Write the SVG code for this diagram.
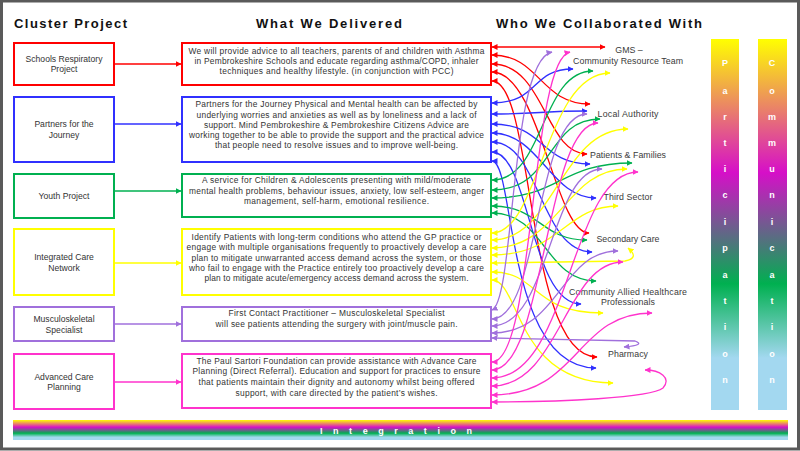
<svg xmlns="http://www.w3.org/2000/svg" width="800" height="451" viewBox="0 0 800 451">
<style>
.hdr{font-family:"Liberation Sans",Arial,sans-serif;font-weight:bold;font-size:13px;fill:#111}
.bt{font-family:"Liberation Sans",Arial,sans-serif;font-size:8.4px;fill:#333;text-anchor:middle}
.lt{font-family:"Liberation Sans",Arial,sans-serif;font-size:8.6px;fill:#333;text-anchor:middle}
.rl{font-family:"Liberation Sans",Arial,sans-serif;font-size:8.8px;fill:#3a3a3a;text-anchor:middle}
.vt{font-family:"Liberation Sans",Arial,sans-serif;font-weight:bold;font-size:9px;fill:#fff;text-anchor:middle}
.box{fill:#fff;stroke-width:2}
.c{fill:none;stroke-width:1.3}
.red{stroke:#ff0000}.blue{stroke:#3030ff}.green{stroke:#00b050}.yellow{stroke:#ffff00}.purple{stroke:#a070dc}.pink{stroke:#ff33cc}
.red.c{marker-start:url(#mr);marker-end:url(#mr)}
.blue.c{marker-start:url(#mb);marker-end:url(#mb)}
.green.c{marker-start:url(#mg);marker-end:url(#mg)}
.yellow.c{marker-start:url(#my);marker-end:url(#my)}
.purple.c{marker-start:url(#mp);marker-end:url(#mp)}
.pink.c{marker-start:url(#mk);marker-end:url(#mk)}
.la{fill:none;stroke-width:1.3}
</style>
<defs>
<marker id="mr" markerUnits="userSpaceOnUse" markerWidth="6" markerHeight="6" refX="5.5" refY="3" orient="auto-start-reverse"><path d="M0,0 L6,3 L0,6 z" fill="#ff0000"/></marker>
<marker id="mb" markerUnits="userSpaceOnUse" markerWidth="6" markerHeight="6" refX="5.5" refY="3" orient="auto-start-reverse"><path d="M0,0 L6,3 L0,6 z" fill="#3030ff"/></marker>
<marker id="mg" markerUnits="userSpaceOnUse" markerWidth="6" markerHeight="6" refX="5.5" refY="3" orient="auto-start-reverse"><path d="M0,0 L6,3 L0,6 z" fill="#00b050"/></marker>
<marker id="my" markerUnits="userSpaceOnUse" markerWidth="6" markerHeight="6" refX="5.5" refY="3" orient="auto-start-reverse"><path d="M0,0 L6,3 L0,6 z" fill="#ffff00"/></marker>
<marker id="mp" markerUnits="userSpaceOnUse" markerWidth="6" markerHeight="6" refX="5.5" refY="3" orient="auto-start-reverse"><path d="M0,0 L6,3 L0,6 z" fill="#a070dc"/></marker>
<marker id="mk" markerUnits="userSpaceOnUse" markerWidth="6" markerHeight="6" refX="5.5" refY="3" orient="auto-start-reverse"><path d="M0,0 L6,3 L0,6 z" fill="#ff33cc"/></marker>
<linearGradient id="gv" x1="0" y1="0" x2="0" y2="1">
<stop offset="0" stop-color="#ffff00"/>
<stop offset="0.36" stop-color="#d60fc8"/>
<stop offset="0.66" stop-color="#00b050"/>
<stop offset="0.86" stop-color="#a3d8f0"/>
<stop offset="1" stop-color="#a3d8f0"/>
</linearGradient>
</defs>
<rect x="0" y="0" width="800" height="451" fill="#fff"/>
<rect x="1.5" y="1" width="797" height="448" fill="none" stroke="#5a5a5a" stroke-width="3"/>

<g id="headers">
<text class="hdr" x="14" y="28" textLength="113">Cluster Project</text>
<text class="hdr" x="256" y="28" textLength="146">What We Delivered</text>
<text class="hdr" x="496" y="28" textLength="206">Who We Collaborated With</text>
</g>

<g id="cluster-projects">
<g id="proj-schools"><rect class="box red" x="14" y="43" width="100" height="42"/><text class="lt" x="64" y="62">Schools Respiratory</text><text class="lt" x="64" y="72">Project</text></g>
<g id="proj-partners"><rect class="box blue" x="14" y="97" width="100" height="65"/><text class="lt" x="64" y="127">Partners for the</text><text class="lt" x="64" y="138">Journey</text></g>
<g id="proj-youth"><rect class="box green" x="14" y="174" width="100" height="44"/><text class="lt" x="64" y="199">Youth Project</text></g>
<g id="proj-icn"><rect class="box yellow" x="14" y="229" width="100" height="66"/><text class="lt" x="64" y="260">Integrated Care</text><text class="lt" x="64" y="271">Network</text></g>
<g id="proj-msk"><rect class="box purple" x="14" y="307" width="100" height="34"/><text class="lt" x="64" y="322">Musculoskeletal</text><text class="lt" x="64" y="333">Specialist</text></g>
<g id="proj-acp"><rect class="box pink" x="14" y="354" width="100" height="55"/><text class="lt" x="64" y="380">Advanced Care</text><text class="lt" x="64" y="390">Planning</text></g>
</g>

<g id="delivered">
<g id="del-schools"><rect class="box red" x="182" y="43" width="309" height="42"/>
<text class="bt" x="336.5" y="54" textLength="296">We will provide advice to all teachers, parents of and children with Asthma</text>
<text class="bt" x="336.5" y="64" textLength="284">in Pembrokeshire Schools and educate regarding asthma/COPD, inhaler</text>
<text class="bt" x="336.5" y="74" textLength="234">techniques and healthy lifestyle.  (in conjunction with PCC)</text></g>
<g id="del-partners"><rect class="box blue" x="182" y="97" width="309" height="65"/>
<text class="bt" x="336.5" y="107" textLength="282">Partners for the Journey Physical and Mental health can be affected by</text>
<text class="bt" x="336.5" y="118" textLength="280">underlying worries and anxieties as well as by loneliness and a lack of</text>
<text class="bt" x="336.5" y="128" textLength="265">support. Mind Pembrokeshire &amp; Pembrokeshire Citizens Advice are</text>
<text class="bt" x="336.5" y="138" textLength="295">working together to be able to provide the support and the practical advice</text>
<text class="bt" x="336.5" y="148" textLength="243">that people need to resolve issues and to improve well-being.</text></g>
<g id="del-youth"><rect class="box green" x="182" y="174" width="309" height="43"/>
<text class="bt" x="336.5" y="183" textLength="269">A service for Children &amp; Adolescents presenting with mild/moderate</text>
<text class="bt" x="336.5" y="194" textLength="295">mental health problems, behaviour issues, anxiety, low self-esteem, anger</text>
<text class="bt" x="336.5" y="204" textLength="185">management, self-harm, emotional resilience.</text></g>
<g id="del-icn"><rect class="box yellow" x="182" y="229" width="309" height="66"/>
<text class="bt" x="336.5" y="240" textLength="290">Identify Patients with long-term conditions who attend the GP practice or</text>
<text class="bt" x="336.5" y="250" textLength="300">engage with multiple organisations frequently to proactively develop a care</text>
<text class="bt" x="336.5" y="261" textLength="290">plan to mitigate unwarranted access demand across the system, or those</text>
<text class="bt" x="336.5" y="271" textLength="295">who fail to engage with the Practice entirely too proactively develop a care</text>
<text class="bt" x="336.5" y="281" textLength="264">plan to mitigate acute/emergency access demand across the system.</text></g>
<g id="del-msk"><rect class="box purple" x="182" y="307" width="309" height="34"/>
<text class="bt" x="336.5" y="316" textLength="216">First Contact Practitioner – Musculoskeletal Specialist</text>
<text class="bt" x="336.5" y="327" textLength="242">will see patients attending the surgery with joint/muscle pain.</text></g>
<g id="del-acp"><rect class="box pink" x="182" y="354" width="309" height="54"/>
<text class="bt" x="336.5" y="364" textLength="280">The Paul Sartori Foundation can provide assistance with Advance Care</text>
<text class="bt" x="336.5" y="374" textLength="288">Planning (Direct Referral).  Education and support for practices to ensure</text>
<text class="bt" x="336.5" y="385" textLength="276">that patients maintain their dignity and autonomy whilst being offered</text>
<text class="bt" x="336.5" y="396" textLength="202">support, with care directed by the patient’s wishes.</text></g>
</g>

<g id="collaborators">
<g id="col-gms"><text class="rl" x="629" y="53">GMS –</text><text class="rl" x="628" y="64" textLength="110">Community Resource Team</text></g>
<g id="col-la"><text class="rl" x="628" y="117" textLength="61">Local Authority</text></g>
<g id="col-pf"><text class="rl" x="628" y="158" textLength="76">Patients &amp; Families</text></g>
<g id="col-ts"><text class="rl" x="628" y="200" textLength="49">Third Sector</text></g>
<g id="col-sc"><text class="rl" x="628" y="242" textLength="63">Secondary Care</text></g>
<g id="col-cahp"><text class="rl" x="628" y="295" textLength="118">Community Allied Healthcare</text><text class="rl" x="628" y="305" textLength="54">Professionals</text></g>
<g id="col-ph"><text class="rl" x="628" y="357" textLength="40">Pharmacy</text></g>
</g>

<g id="connectors">
<g id="left-arrows">
<line class="la red" x1="114" y1="64" x2="181" y2="64" marker-end="url(#mr)"/>
<line class="la blue" x1="114" y1="124" x2="181" y2="124" marker-end="url(#mb)"/>
<line class="la green" x1="114" y1="191" x2="181" y2="191" marker-end="url(#mg)"/>
<line class="la yellow" x1="114" y1="263" x2="181" y2="263" marker-end="url(#my)"/>
<line class="la purple" x1="114" y1="324" x2="181" y2="324" marker-end="url(#mp)"/>
<line class="la pink" x1="114" y1="382" x2="181" y2="382" marker-end="url(#mk)"/>
</g>
<g id="red-links">
<path class="c red" d="M492,47 L605,47"/>
<path class="c red" d="M492,55 C540,55 540,104 590,104"/>
<path class="c red" d="M492,64 C545,64 545,154 587,154"/>
<path class="c red" d="M492,72 C540,72 555,233 589,233"/>
<path class="c red" d="M492,81 C535,81 525,357 597,357"/>
</g>
<g id="blue-links">
<path class="c blue" d="M492,103 C540,103 530,69 573,69"/>
<path class="c blue" d="M492,114 C540,114 540,111 587,111"/>
<path class="c blue" d="M492,124 C545,124 540,164 590,164"/>
<path class="c blue" d="M492,133 C540,133 550,198 596,198"/>
<path class="c blue" d="M492,142 C540,142 540,252 592,252"/>
<path class="c blue" d="M492,152 C530,152 530,304 581,304"/>
<path class="c blue" d="M492,161 C515,161 505,368 596,368"/>
</g>
<g id="green-links">
<path class="c green" d="M492,180 C545,180 540,71 593,71"/>
<path class="c green" d="M492,190 C555,190 545,119 600,119"/>
<path class="c green" d="M492,198 C560,198 560,163 632,163"/>
<path class="c green" d="M492,206 C540,206 540,240 587,240"/>
<path class="c green" d="M492,213 C545,213 545,281 596,281"/>
</g>
<g id="yellow-links">
<path class="c yellow" d="M492,233 C540,233 545,73 610,73"/>
<path class="c yellow" d="M492,240 C555,240 560,129 628,129"/>
<path class="c yellow" d="M492,248 C560,248 565,169 627,169"/>
<path class="c yellow" d="M492,255 C560,255 565,206 618,206"/>
<path class="c yellow" d="M492,263 L625,261 Q640,258 628,248"/>
<path class="c yellow" d="M492,272 C540,272 530,313 603,313"/>
<path class="c yellow" d="M492,280 C520,280 515,383 613,383"/>
</g>
<g id="purple-links">
<path class="c purple" d="M492,310 C515,300 510,60 552,52"/>
<path class="c purple" d="M492,319 C540,319 535,114 587,114"/>
<path class="c purple" d="M492,326 C550,326 550,169 602,169"/>
<path class="c purple" d="M492,333 C560,333 560,251 618,251"/>
<path class="c purple" d="M492,338 L635,341 Q646,345 624,347"/>
</g>
<g id="pink-links">
<path class="c pink" d="M492,362 C535,362 530,60 570,52"/>
<path class="c pink" d="M492,370 C545,370 545,123 598,123"/>
<path class="c pink" d="M492,378 C570,378 570,172 638,172"/>
<path class="c pink" d="M492,386 C560,386 565,262 623,262"/>
<path class="c pink" d="M492,395 C580,395 575,313 652,313"/>
<path class="c pink" d="M492,402 C560,402 650,398 663,388 C672,378 660,370 645,370"/>
</g>
</g>

<g id="participation">
<rect x="711" y="39" width="28" height="371" fill="url(#gv)"/>
<text class="vt" x="725" y="66">P</text><text class="vt" x="725" y="94">a</text><text class="vt" x="725" y="120">r</text><text class="vt" x="725" y="146">t</text><text class="vt" x="725" y="172">i</text><text class="vt" x="725" y="198">c</text><text class="vt" x="725" y="225">i</text><text class="vt" x="725" y="251">p</text><text class="vt" x="725" y="278">a</text><text class="vt" x="725" y="304">t</text><text class="vt" x="725" y="330">i</text><text class="vt" x="725" y="357">o</text><text class="vt" x="725" y="383">n</text>
</g>
<g id="communication">
<rect x="758" y="39" width="29" height="371" fill="url(#gv)"/>
<text class="vt" x="772" y="66">C</text><text class="vt" x="772" y="94">o</text><text class="vt" x="772" y="120">m</text><text class="vt" x="772" y="146">m</text><text class="vt" x="772" y="172">u</text><text class="vt" x="772" y="198">n</text><text class="vt" x="772" y="225">i</text><text class="vt" x="772" y="251">c</text><text class="vt" x="772" y="278">a</text><text class="vt" x="772" y="304">t</text><text class="vt" x="772" y="330">i</text><text class="vt" x="772" y="357">o</text><text class="vt" x="772" y="383">n</text>
</g>
<g id="integration">
<rect x="13" y="420" width="775" height="20" fill="url(#gv)"/>
<text class="vt" x="396" y="434" font-weight="normal" textLength="152">I n t e g r a t i o n</text>
</g>
</svg>
